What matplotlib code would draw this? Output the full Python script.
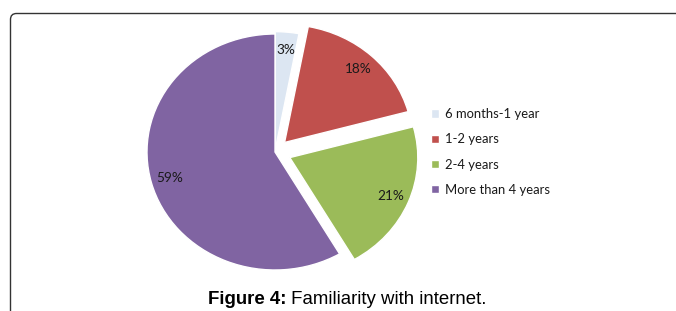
import matplotlib
matplotlib.use("Agg")
import matplotlib.pyplot as plt
from matplotlib.patches import FancyBboxPatch
from matplotlib.transforms import IdentityTransform

categories = ["6 months-1 year", "1-2 years", "2-4 years", "More than 4 years"]
values = [3, 18, 21, 59]
colors = ["#DCE6F2", "#C0504D", "#9BBB59", "#8064A2"]
explode = [0.02, 0.11, 0.125, 0.0]
caption_bold = "Figure 4:"
caption_rest = " Familiarity with internet."

W, H = 676, 311
fig = plt.figure(figsize=(W / 100, H / 100), dpi=100)
fig.patch.set_facecolor("white")

# pie axes: centre (275,152) px, rx=128, ry=118
cx, cy, rx, ry = 275, 152, 128, 118
xl, yl = 1.3, 1.2
left = (cx - xl * rx) / W
bottom = (H - (cy + yl * ry)) / H
ax = fig.add_axes([left, bottom, 2 * xl * rx / W, 2 * yl * ry / H])

total = sum(values)
wedges, texts, autotexts = ax.pie(
    values, colors=colors, explode=explode, startangle=90, counterclock=False,
    autopct=lambda p: f"{round(p * total / 100):.0f}%", pctdistance=0.85,
    wedgeprops=dict(edgecolor="white", linewidth=1.0),
    textprops=dict(fontsize=9.8, color="#1a1a1a", family="Lato"),
)
ax.set_aspect("auto")
ax.set_xlim(-xl, xl)
ax.set_ylim(-yl, yl)
ax.axis("off")

leg = fig.legend(wedges, categories, loc="center left",
                 bbox_to_anchor=(424 / W, 1 - 152 / H), frameon=False,
                 borderpad=0, handlelength=0.65, handleheight=0.65,
                 handletextpad=0.45, labelspacing=1.0,
                 prop=dict(family="Lato", size=9.4))
for t in leg.get_texts():
    t.set_color("#1a1a1a")

# frame
frame = FancyBboxPatch((10.5, -30), 720, H - 13.5 + 30,
                       boxstyle="round,pad=0,rounding_size=6",
                       transform=IdentityTransform(), fill=False,
                       ec="#333333", lw=1.0)
fig.add_artist(frame)

# caption
t1 = fig.text(208 / W, 1 - 300 / H, caption_bold, fontsize=13.4, fontweight="bold",
              family="Liberation Sans", va="center", ha="left")
fig.canvas.draw()
bb = t1.get_window_extent()
fig.text(bb.x1 / W, 1 - 300 / H, caption_rest, fontsize=13.4,
         family="Liberation Sans", va="center", ha="left")

fig.savefig("out.png", dpi=100)
